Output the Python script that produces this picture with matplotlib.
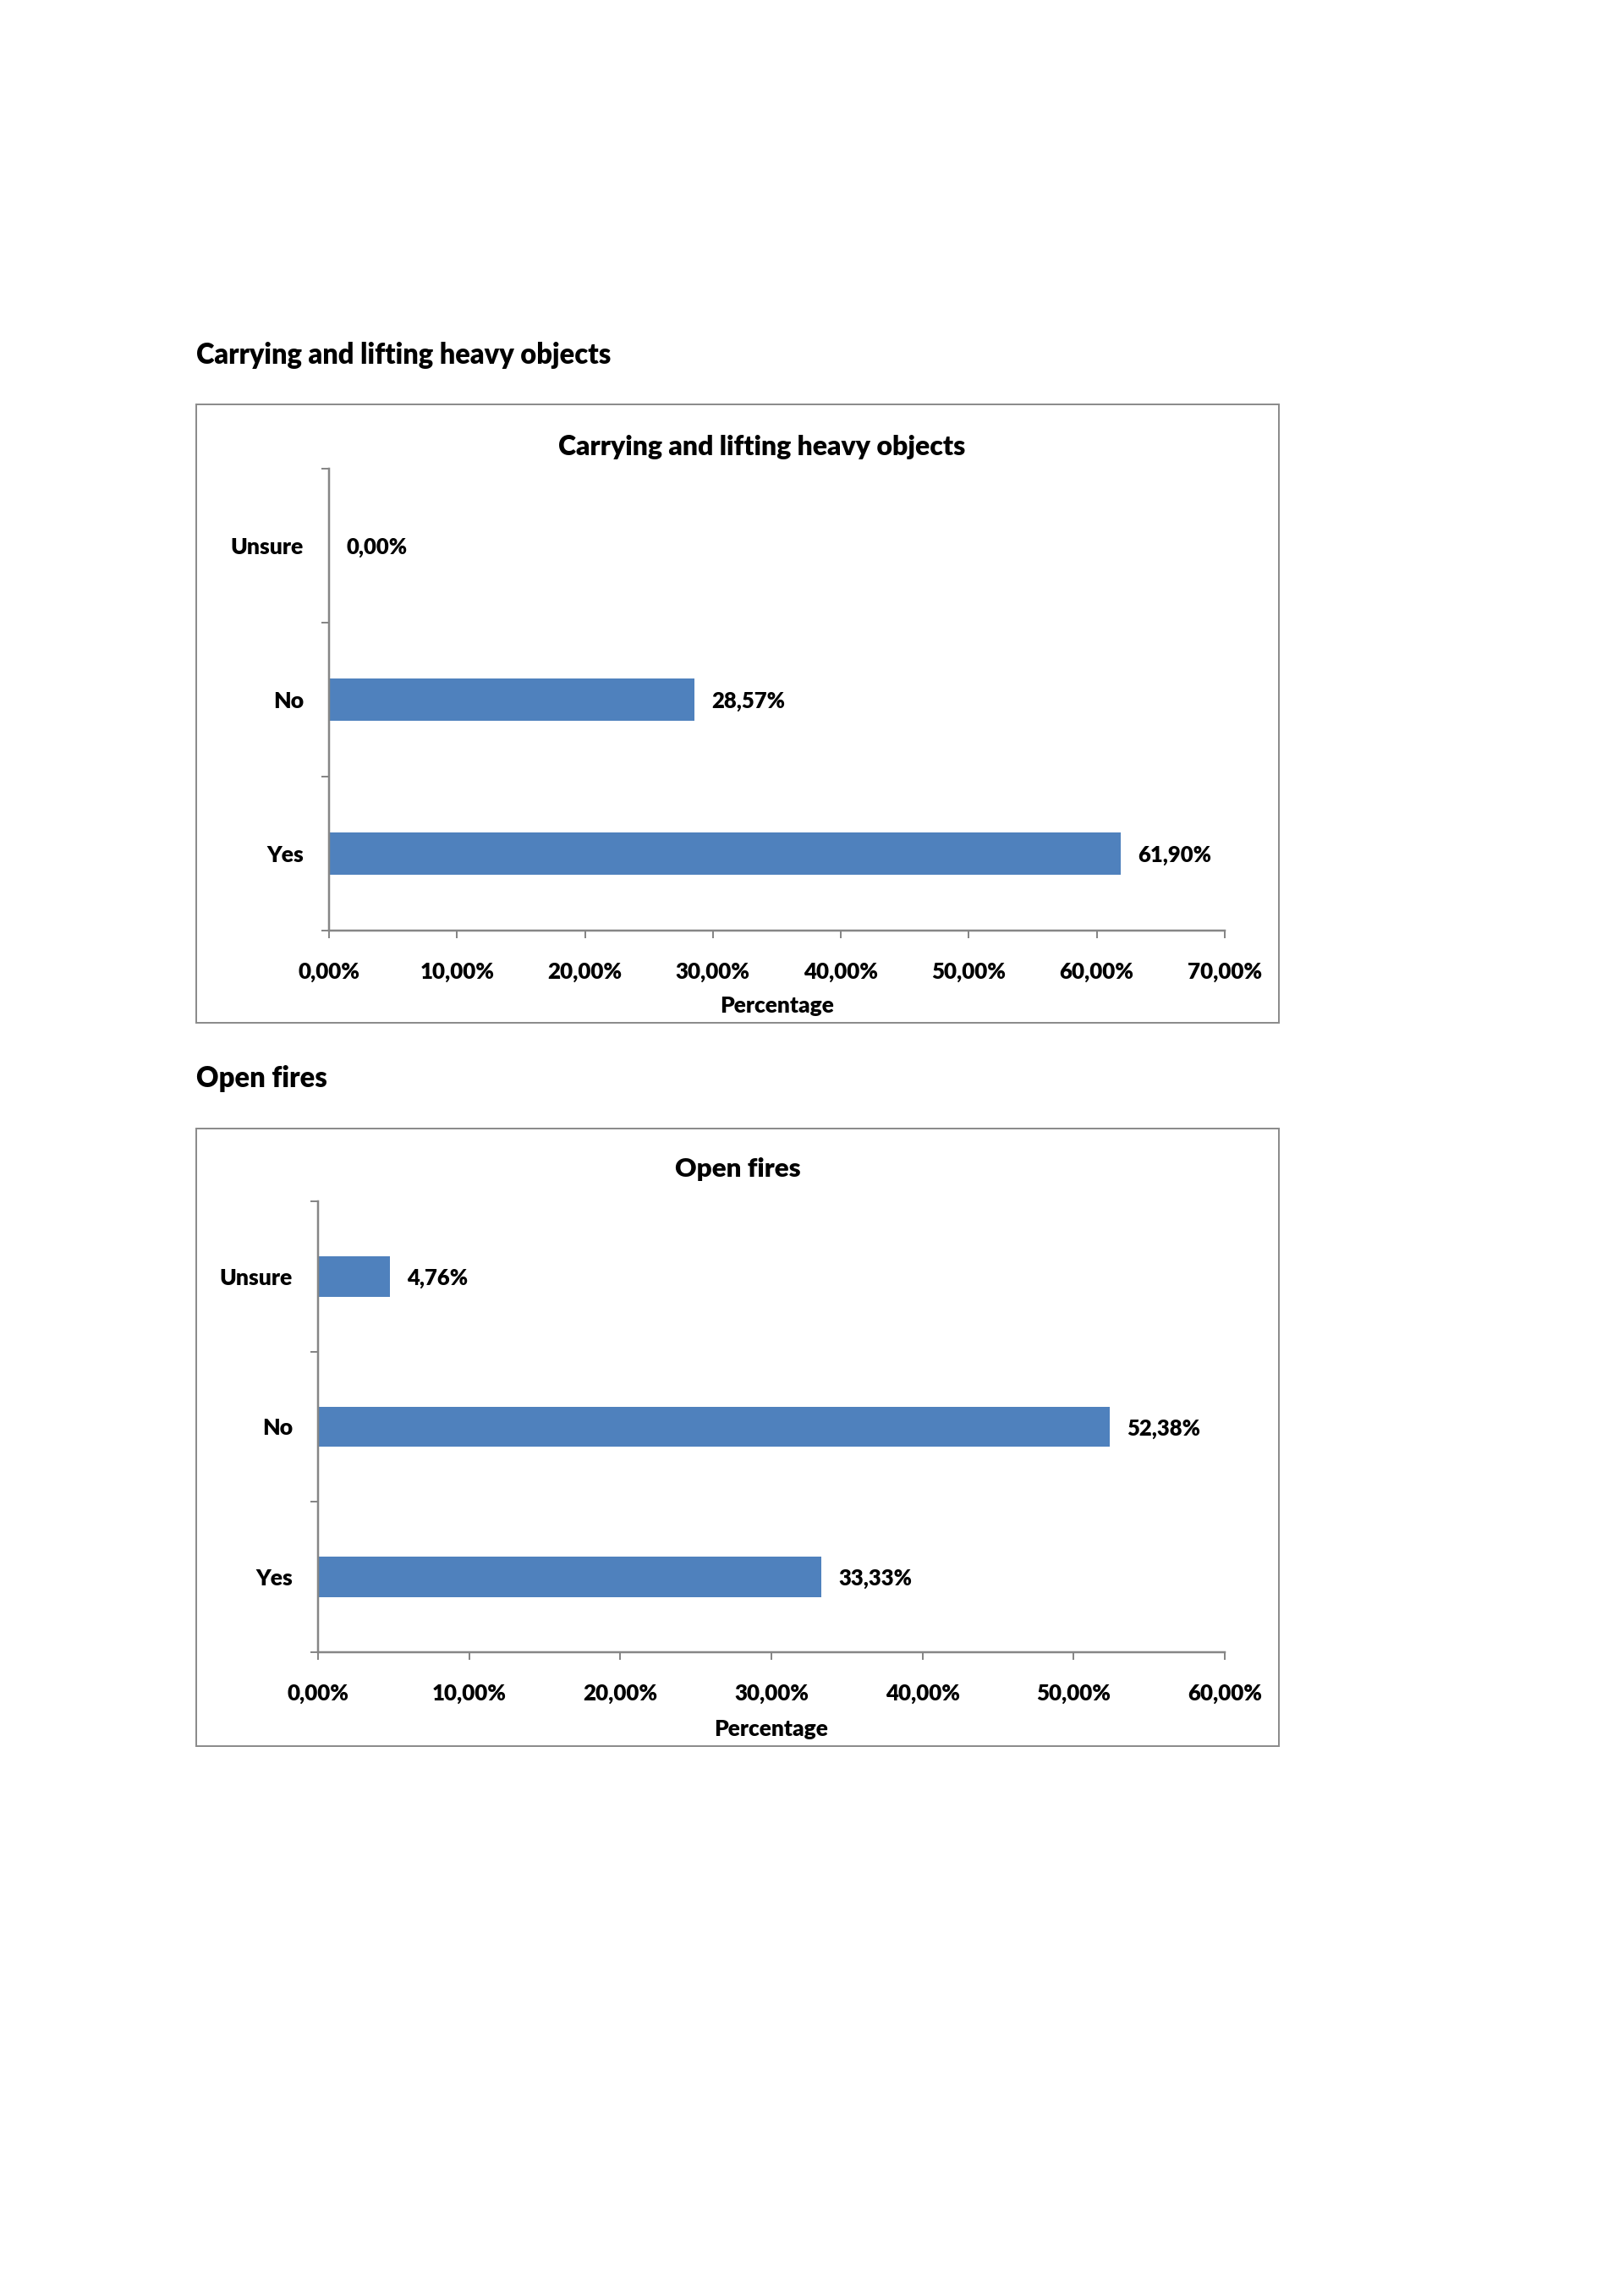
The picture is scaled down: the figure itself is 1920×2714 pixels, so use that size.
import matplotlib
matplotlib.use("Agg")
import matplotlib.pyplot as plt
from matplotlib.patches import Rectangle
from matplotlib.textpath import TextPath
from matplotlib.font_manager import FontProperties
from matplotlib.ticker import FuncFormatter, FixedLocator

# ---------------- data ----------------
categories = ["Yes", "No", "Unsure"]
heavy_values = [61.90, 28.57, 0.00]
fires_values = [33.33, 52.38, 4.76]
heavy_title = "Carrying and lifting heavy objects"
fires_title = "Open fires"
x_label = "Percentage"
heavy_xmax = 70
fires_xmax = 60
tick_step = 10

# ---------------- style ----------------
W, H = 1920, 2714
FAMILY = ["Lato", "DejaVu Sans"]
WEIGHT = 800
FP = FontProperties(family="Lato", weight=WEIGHT)
BAR_COLOR = "#4F81BD"
AXIS_COLOR = "#868686"
FRAME_COLOR = "#8C8C8C"
PX = 72 / 100.0  # points per pixel at dpi 100

plt.rcParams["font.family"] = FAMILY
plt.rcParams["font.weight"] = WEIGHT


def fit(s, px):
    w = TextPath((0, 0), s, size=100, prop=FP).get_extents().width
    return px * 72.0 / w


def pct(v):
    return f"{v:.2f}%".replace(".", ",")


fig = plt.figure(figsize=(W / 100, H / 100), dpi=100)
fig.patch.set_facecolor("white")


def fx(x):
    return x / W


def fy(y):
    return 1 - y / H


size_tick = fit("60,00%", 86.7)
size_cat = fit("Unsure", 84.3)
size_data = fit("61,90%", 85.3)
size_xlabel = fit("Percentage", 132)


def chart(heading, heading_px, heading_base, frame, title_cx, title_px, title_base,
          axbox, values, xmax, xlabel_base):
    # heading above the chart
    fig.text(fx(232), fy(heading_base), heading, ha="left", va="baseline",
             fontsize=fit(heading, heading_px), fontweight=WEIGHT, color="black")
    # chart frame
    x0, y0, x1, y1 = frame
    fig.add_artist(Rectangle((fx(x0), fy(y1)), fx(x1) - fx(x0), fy(y0) - fy(y1),
                             transform=fig.transFigure, fill=False,
                             edgecolor=FRAME_COLOR, linewidth=2 * PX))
    # inner title
    fig.text(fx(title_cx), fy(title_base), heading, ha="center", va="baseline",
             fontsize=fit(heading, title_px), fontweight=WEIGHT, color="black")

    l, t, r, b = axbox
    ax = fig.add_axes([fx(l), fy(b), fx(r) - fx(l), fy(t) - fy(b)])
    ax.set_facecolor("none")
    ypos = list(range(len(categories)))
    ax.barh(ypos, values, height=0.27, color=BAR_COLOR, edgecolor="none")
    ax.set_xlim(0, xmax)
    ax.set_ylim(-0.5, len(categories) - 0.5)

    for sp in ("top", "right"):
        ax.spines[sp].set_visible(False)
    for sp in ("left", "bottom"):
        ax.spines[sp].set_color(AXIS_COLOR)
        ax.spines[sp].set_linewidth(2.5 * PX)

    # x axis
    ax.set_xticks(list(range(0, xmax + 1, tick_step)))
    ax.xaxis.set_major_formatter(FuncFormatter(lambda v, p: pct(v)))
    ax.tick_params(axis="x", direction="out", length=9 * PX, width=2 * PX,
                   color=AXIS_COLOR, pad=48 * PX, labelsize=size_tick,
                   labelcolor="black")
    for lab in ax.get_xticklabels():
        lab.set_va("baseline")
        lab.set_fontweight(WEIGHT)

    # y axis: labels at category centres, ticks at boundaries
    ax.set_yticks(ypos)
    ax.set_yticklabels(categories)
    ax.yaxis.set_minor_locator(FixedLocator([i - 0.5 for i in range(len(categories) + 1)]))
    ax.tick_params(axis="y", which="major", length=0, pad=30 * PX,
                   labelsize=size_cat, labelcolor="black")
    ax.tick_params(axis="y", which="minor", direction="out", length=9 * PX,
                   width=2 * PX, color=AXIS_COLOR)
    for lab in ax.get_yticklabels():
        lab.set_va("center_baseline")
        lab.set_fontweight(WEIGHT)

    # axis title
    ax.set_xlabel(x_label, fontsize=size_xlabel, fontweight=WEIGHT)
    ax.xaxis.label.set_va("baseline")
    ax.xaxis.set_label_coords(0.5, -(xlabel_base - b) / (b - t))

    # data labels
    for yv, v in zip(ypos, values):
        ax.annotate(pct(v), xy=(v, yv), xytext=(20 * PX, 0), textcoords="offset points",
                    ha="left", va="center_baseline", fontsize=size_data,
                    fontweight=WEIGHT, color="black")
    return ax


chart(heavy_title, 489, 430, (232, 478, 1512, 1209), 901, 481, 538,
      (389, 554, 1448, 1100), heavy_values, heavy_xmax, 1197)
chart(fires_title, 153, 1285, (232, 1334, 1512, 2064), 872, 147, 1391,
      (376, 1420, 1448, 1953), fires_values, fires_xmax, 2052)

fig.savefig("out.png", dpi=100, facecolor="white")
